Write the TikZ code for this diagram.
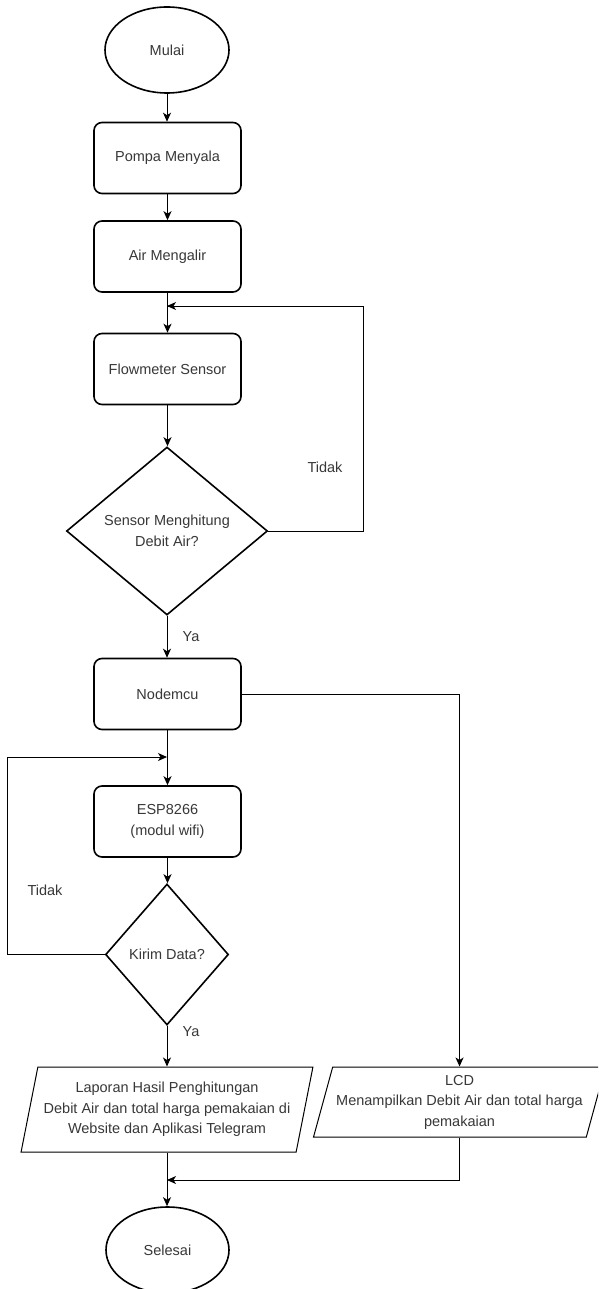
\documentclass[tikz,border=0pt]{standalone}
\usepackage{fontspec}
\setmainfont{Liberation Sans}
\usetikzlibrary{shapes.geometric,arrows.meta}
\begin{document}
\begin{tikzpicture}[x=1pt,y=-1pt,
  font=\fontsize{14.5}{20.5}\selectfont,
  txt/.style={text=black!78, inner sep=0pt},
  box/.style={draw, line width=1.6pt, rounded corners=8pt, minimum width=147pt, minimum height=71pt, align=center, text=black!78, inner sep=0pt},
  dec/.style={draw, diamond, line width=1.6pt, inner sep=0pt, align=center, text=black!78},
  term/.style={draw, ellipse, line width=1.6pt, inner sep=0pt, text=black!78},
  io/.style={draw, trapezium, trapezium stretches=true, line width=1pt, align=center, text=black!78, inner sep=0pt},
  arr/.style={-{Stealth[length=9pt,width=8pt,inset=2.5pt]}, line width=1pt},
  ln/.style={line width=1pt}]
\clip (0,0) rectangle (598,1289);
\fill[white] (0,0) rectangle (598,1289);

\node[term, minimum width=124pt, minimum height=86pt] (mulai) at (167,50) {Mulai};
\node[box] (pompa) at (167.5,158) {Pompa Menyala};
\node[box] (air) at (167.5,256.5) {Air Mengalir};
\node[box] (flow) at (167.5,369) {Flowmeter Sensor};
\node[dec, minimum width=201pt, minimum height=168pt] (sensor) at (167,531) {Sensor Menghitung\\Debit Air?};
\node[box] (nodemcu) at (167.5,694) {Nodemcu};
\node[box] (esp) at (167.5,821.5) {ESP8266\\(modul wifi)};
\node[dec, minimum width=123pt, minimum height=141pt] (kirim) at (167,954.5) {Kirim Data?};
\node[io, trapezium left angle=73.6, trapezium right angle=106.4, minimum width=292pt, minimum height=85pt] (lap) at (167,1109.5) {Laporan Hasil Penghitungan\\Debit Air dan total harga pemakaian di\\Website dan Aplikasi Telegram};
\node[io, trapezium left angle=71, trapezium right angle=109, minimum width=293pt, minimum height=70pt] (lcd) at (459.5,1102) {LCD\\Menampilkan Debit Air dan total harga\\pemakaian};
\node[term, minimum width=123pt, minimum height=86pt] (selesai) at (167.5,1250) {Selesai};

\node[txt] (tidak1) at (325,467) {Tidak};
\node[txt] (ya1) at (191,637) {Ya};
\node[txt] (tidak2) at (45,890) {Tidak};
\node[txt] (ya2) at (191,1032) {Ya};

\coordinate (j1) at (167,306);
\coordinate (j2) at (167,757);
\coordinate (j3) at (167,1180);

\draw[arr] (mulai.south) -- (mulai.south |- pompa.north);
\draw[arr] (pompa.south) -- (pompa.south |- air.north);
\draw[arr] (air.south) -- (air.south |- flow.north);
\draw[arr] (flow.south) -- (flow.south |- sensor.north);
\draw[ln] (sensor.east) -- ++(95,0) |- (j1);
\draw[arr] (sensor.east) ++(95,-225) -- (j1);
\draw[arr] (sensor.south) -- (sensor.south |- nodemcu.north);
\draw[arr] (nodemcu.south) -- (nodemcu.south |- esp.north);
\draw[arr] (esp.south) -- (esp.south |- kirim.north);
\draw[arr] (kirim.west) -- ++(-97,0) |- (j2);
\draw[arr] (kirim.south) -- (kirim.south |- lap.north);
\draw[arr] (nodemcu.east) -| (lcd.north);
\draw[arr] (lap.south) -- (lap.south |- selesai.north);
\draw[arr] (lcd.south) |- (j3);
\end{tikzpicture}
\end{document}
